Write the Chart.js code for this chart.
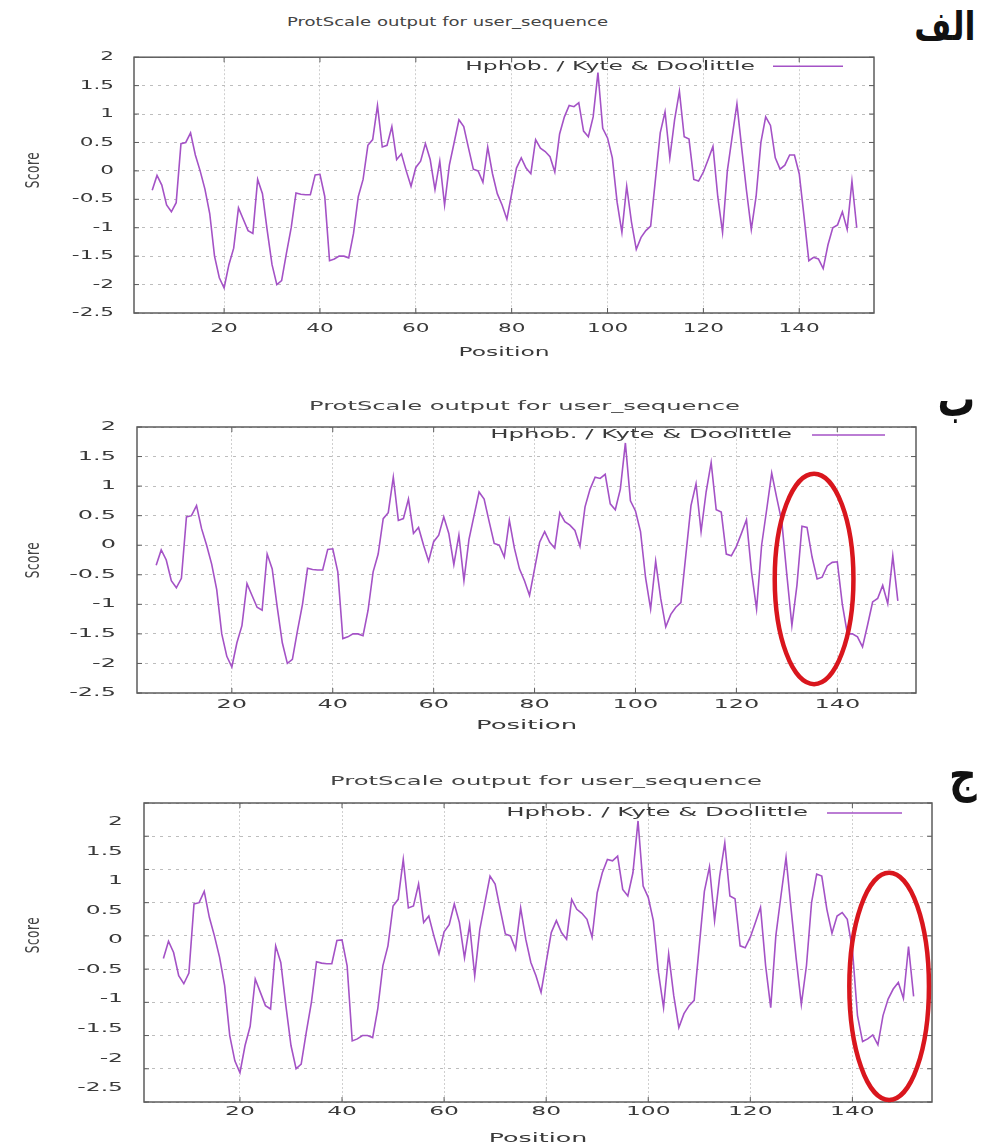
<!DOCTYPE html>
<html>
<head>
<meta charset="utf-8">
<title>ProtScale hydropathy</title>
<script src="https://cdn.jsdelivr.net/npm/chart.js@4.4.1/dist/chart.umd.min.js"></script>
<style>
  html, body { margin: 0; padding: 0; background: #fff; }
  #page { position: relative; width: 985px; height: 1146px; overflow: hidden; font-family: "DejaVu Sans", sans-serif; }
  .panel { position: absolute; left: 0; }
  .txt { position: absolute; white-space: nowrap; color: #444; line-height: 1; }
  .mark { position: absolute; white-space: nowrap; font-weight: bold; color: #111; line-height: 1; direction: rtl; }
</style>
</head>
<body>
<div id="page">
  <div class="panel" style="top:30px"><canvas id="chartA" width="900" height="345"></canvas></div>
  <div class="panel" style="top:395px"><canvas id="chartB" width="945" height="345"></canvas></div>
  <div class="panel" style="top:770px"><canvas id="chartC" width="960" height="376"></canvas></div>
</div>
<script>
// sequence positions (window centre), window of 9 residues
const positions = [
  5, 6, 7, 8, 9, 10, 11, 12, 13, 14,
  15, 16, 17, 18, 19, 20, 21, 22, 23, 24,
  25, 26, 27, 28, 29, 30, 31, 32, 33, 34,
  35, 36, 37, 38, 39, 40, 41, 42, 43, 44,
  45, 46, 47, 48, 49, 50, 51, 52, 53, 54,
  55, 56, 57, 58, 59, 60, 61, 62, 63, 64,
  65, 66, 67, 68, 69, 70, 71, 72, 73, 74,
  75, 76, 77, 78, 79, 80, 81, 82, 83, 84,
  85, 86, 87, 88, 89, 90, 91, 92, 93, 94,
  95, 96, 97, 98, 99, 100, 101, 102, 103, 104,
  105, 106, 107, 108, 109, 110, 111, 112, 113, 114,
  115, 116, 117, 118, 119, 120, 121, 122, 123, 124,
  125, 126, 127, 128, 129, 130, 131, 132, 133, 134,
  135, 136, 137, 138, 139, 140, 141, 142, 143, 144,
  145, 146, 147, 148, 149, 150, 151, 152
];

// Kyte & Doolittle scores
const scoresA = [
  -0.34, -0.08, -0.25, -0.6, -0.72, -0.56, 0.48, 0.5, 0.67, 0.28,
  0.0, -0.32, -0.75, -1.5, -1.88, -2.06, -1.65, -1.36, -0.65, -0.85,
  -1.05, -1.1, -0.15, -0.4, -1.05, -1.65, -2.0, -1.93, -1.45, -1.0,
  -0.39, -0.41, -0.42, -0.42, -0.07, -0.06, -0.45, -1.58, -1.55, -1.5,
  -1.5, -1.53, -1.1, -0.45, -0.15, 0.45, 0.55, 1.15, 0.42, 0.45,
  0.78, 0.2, 0.3, 0.0, -0.27, 0.06, 0.17, 0.48, 0.2, -0.33,
  0.17, -0.6, 0.1, 0.5, 0.9, 0.78, 0.4, 0.03, 0.0, -0.2,
  0.42, -0.05, -0.4, -0.6, -0.85, -0.4, 0.05, 0.23, 0.05, -0.05,
  0.55, 0.4, 0.34, 0.25, -0.02, 0.65, 0.95, 1.15, 1.13, 1.2,
  0.7, 0.6, 0.95, 1.73, 0.75, 0.58, 0.23, -0.55, -1.08, -0.27,
  -0.9, -1.38, -1.17, -1.05, -0.97, -0.15, 0.67, 1.04, 0.23, 0.9,
  1.4, 0.6, 0.56, -0.15, -0.18, -0.02, 0.2, 0.43, -0.45, -1.08,
  0.0, 0.6, 1.18, 0.4, -0.35, -1.03, -0.45, 0.5, 0.95, 0.8,
  0.23, 0.03, 0.1, 0.28, 0.28, -0.05, -0.8, -1.58, -1.52, -1.55,
  -1.72, -1.3, -1.0, -0.95, -0.72, -1.03, -0.18, -1.0
];

const scoresB = [
  -0.34, -0.08, -0.25, -0.6, -0.72, -0.56, 0.48, 0.5, 0.67, 0.28,
  0.0, -0.32, -0.75, -1.5, -1.88, -2.06, -1.65, -1.36, -0.65, -0.85,
  -1.05, -1.1, -0.15, -0.4, -1.05, -1.65, -2.0, -1.93, -1.45, -1.0,
  -0.39, -0.41, -0.42, -0.42, -0.07, -0.06, -0.45, -1.58, -1.55, -1.5,
  -1.5, -1.53, -1.1, -0.45, -0.15, 0.45, 0.55, 1.15, 0.42, 0.45,
  0.78, 0.2, 0.3, 0.0, -0.27, 0.06, 0.17, 0.48, 0.2, -0.33,
  0.17, -0.6, 0.1, 0.5, 0.9, 0.78, 0.4, 0.03, 0.0, -0.2,
  0.42, -0.05, -0.4, -0.6, -0.85, -0.4, 0.05, 0.23, 0.05, -0.05,
  0.55, 0.4, 0.34, 0.25, -0.02, 0.65, 0.95, 1.15, 1.13, 1.2,
  0.7, 0.6, 0.95, 1.73, 0.75, 0.58, 0.23, -0.55, -1.08, -0.27,
  -0.9, -1.38, -1.17, -1.05, -0.97, -0.15, 0.67, 1.04, 0.23, 0.9,
  1.4, 0.6, 0.56, -0.15, -0.18, -0.02, 0.2, 0.43, -0.45, -1.08,
  0.0, 0.6, 1.22, 0.8, 0.4, -0.5, -1.36, -0.68, 0.32, 0.3,
  -0.2, -0.57, -0.54, -0.35, -0.29, -0.28, -1.0, -1.5, -1.5, -1.55,
  -1.72, -1.35, -0.96, -0.9, -0.68, -0.99, -0.18, -0.94
];

const scoresC = [
  -0.34, -0.08, -0.25, -0.6, -0.72, -0.56, 0.48, 0.5, 0.67, 0.28,
  0.0, -0.32, -0.75, -1.5, -1.88, -2.06, -1.65, -1.36, -0.65, -0.85,
  -1.05, -1.1, -0.15, -0.4, -1.05, -1.65, -2.0, -1.93, -1.45, -1.0,
  -0.39, -0.41, -0.42, -0.42, -0.07, -0.06, -0.45, -1.58, -1.55, -1.5,
  -1.5, -1.53, -1.1, -0.45, -0.15, 0.45, 0.55, 1.15, 0.42, 0.45,
  0.78, 0.2, 0.3, 0.0, -0.27, 0.06, 0.17, 0.48, 0.2, -0.33,
  0.17, -0.6, 0.1, 0.5, 0.9, 0.78, 0.4, 0.03, 0.0, -0.2,
  0.42, -0.05, -0.4, -0.6, -0.85, -0.4, 0.05, 0.23, 0.05, -0.05,
  0.55, 0.4, 0.34, 0.25, -0.02, 0.65, 0.95, 1.15, 1.13, 1.2,
  0.7, 0.6, 0.95, 1.73, 0.75, 0.58, 0.23, -0.55, -1.08, -0.27,
  -0.9, -1.38, -1.17, -1.05, -0.97, -0.15, 0.67, 1.04, 0.23, 0.9,
  1.4, 0.6, 0.56, -0.15, -0.18, -0.02, 0.2, 0.43, -0.45, -1.08,
  0.0, 0.6, 1.18, 0.4, -0.35, -1.03, -0.45, 0.5, 0.93, 0.9,
  0.4, 0.04, 0.3, 0.35, 0.25, -0.2, -1.2, -1.59, -1.55, -1.49,
  -1.64, -1.2, -0.95, -0.8, -0.7, -0.94, -0.16, -0.91
];

const xTicks = [20, 40, 60, 80, 100, 120, 140];
const yTicks = [2, 1.5, 1, 0.5, 0, -0.5, -1, -1.5, -2, -2.5];
const xMin = 1.2, xMax = 155.6;
const yMin = -2.5, yMax = 2;

const plotTitle = 'ProtScale output for user_sequence';
const seriesLabel = 'Hphob. / Kyte & Doolittle';
const xLabel = 'Position';
const yLabel = 'Score';
const panelMarks = ['الف', 'ب', 'ج'];

const lineColor = '#a452c6';
const ringColor = '#d9161d';
const FONT = '"DejaVu Sans", sans-serif';

Chart.defaults.font.family = FONT;
Chart.defaults.color = '#3a3a3a';

// the source bitmaps were stretched sideways: draw all canvas text wider than tall
const wideText = {
  id: 'wideText',
  beforeDraw(chart, args, o) {
    const ctx = chart.ctx;
    ctx._sx = o.sx;
    if (ctx._wide) return;
    const plain = ctx.fillText;
    ctx.fillText = function (t, x, y) {
      this.save();
      this.translate(x, y);
      this.scale(this._sx, 1);
      plain.call(this, t, 0, 0);
      this.restore();
    };
    ctx._wide = true;
  }
};

const frame = {
  id: 'frame',
  afterDraw(chart) {
    const { ctx, chartArea: a, scales } = chart;
    ctx.save();
    ctx.strokeStyle = '#5c5c5c';
    ctx.lineWidth = 1.5;
    ctx.strokeRect(a.left, a.top, a.right - a.left, a.bottom - a.top);
    ctx.lineWidth = 1;
    ctx.beginPath();
    yTicks.forEach(v => {
      const p = scales.y.getPixelForValue(v);
      ctx.moveTo(a.left, p); ctx.lineTo(a.left + 5, p);
      ctx.moveTo(a.right, p); ctx.lineTo(a.right - 5, p);
    });
    xTicks.forEach(v => {
      const p = scales.x.getPixelForValue(v);
      ctx.moveTo(p, a.bottom); ctx.lineTo(p, a.bottom - 5);
      ctx.moveTo(p, a.top); ctx.lineTo(p, a.top + 5);
    });
    ctx.stroke();
    ctx.restore();
  }
};

const key = {
  id: 'key',
  afterDraw(chart, args, o) {
    const { ctx, chartArea: a } = chart;
    const ds = chart.data.datasets[0];
    const y = a.top + o.dy;
    const x1 = a.right - o.inset, x0 = x1 - o.len;
    ctx.save();
    ctx.strokeStyle = ds.borderColor;
    ctx.lineWidth = 1.5;
    ctx.beginPath(); ctx.moveTo(x0, y); ctx.lineTo(x1, y); ctx.stroke();
    ctx.font = o.size + 'px ' + FONT;
    ctx.fillStyle = '#3a3a3a';
    ctx.textAlign = 'right';
    ctx.textBaseline = 'middle';
    ctx.fillText(ds.label, x0 - o.gap, y);
    ctx.restore();
  }
};

const ring = {
  id: 'ring',
  afterDraw(chart, args, o) {
    if (!o || o.rx == null) return;
    const { ctx, scales } = chart;
    const cx = scales.x.getPixelForValue(o.x), cy = scales.y.getPixelForValue(o.y);
    const rx = Math.abs(scales.x.getPixelForValue(o.x + o.rx) - cx);
    const ry = Math.abs(scales.y.getPixelForValue(o.y + o.ry) - cy);
    ctx.save();
    ctx.strokeStyle = ringColor;
    ctx.lineWidth = 4.5;
    ctx.beginPath(); ctx.ellipse(cx, cy, rx, ry, 0, 0, Math.PI * 2); ctx.stroke();
    ctx.restore();
  }
};

const panels = [
  { id: 'chartA', scores: scoresA, pad: { top: 14, right: 26, bottom: 10, left: 0 },
    yW: 134, yPad: 20, xH: 52, xPad: 9, titlePadB: 5, sx: 1.8,
    keyBox: { dy: 9, inset: 31, len: 70, gap: 18, size: 13 }, ringAt: null, labelRange: null,
    title: { x: 287, y: 21, w: 321 }, score: { x: 33, y: 170 } },
  { id: 'chartB', scores: scoresB, pad: { top: 32, right: 29, bottom: 2, left: 0 },
    yW: 137, yPad: 21, xH: 45, xPad: 5, titlePadB: 5, sx: 2.0,
    keyBox: { dy: 8, inset: 31, len: 73, gap: 20, size: 12.2 }, ringAt: { x: 135.4, y: -0.57, rx: 7.8, ry: 1.78 }, labelRange: null,
    title: { x: 309, y: 405, w: 431 }, score: { x: 33, y: 560 } },
  { id: 'chartC', scores: scoresC, pad: { top: 33, right: 28, bottom: 0, left: 0 },
    yW: 144, yPad: 21, xH: 44, xPad: 3, titlePadB: 0, sx: 1.95,
    keyBox: { dy: 10, inset: 30, len: 75, gap: 19, size: 12.5 }, ringAt: { x: 147.2, y: -0.76, rx: 7.8, ry: 1.71 },
    labelRange: { min: -2.737, max: 2.32 },
    title: { x: 330, y: 780, w: 432 }, score: { x: 33, y: 935 } }
];

const marks = [
  { right: 975, y: 26, size: 40, sx: 0.8 },
  { right: 975, y: 399, size: 50, sx: 0.75 },
  { right: 977, y: 774, size: 48, sx: 0.8 }
];

function setTicks(list) {
  return axis => { axis.ticks = list.map(v => ({ value: v })); };
}

function makeChart(p) {
  const tickFont = { family: FONT, size: 12 };
  const scales = {
    x: {
      type: 'linear', min: xMin, max: xMax,
      afterBuildTicks: setTicks(xTicks),
      afterFit: s => { s.height = p.xH; },
      grid: { color: '#cfcfcf', lineWidth: 1, drawTicks: false },
      border: { display: false, dash: [2, 2] },
      ticks: { autoSkip: false, maxRotation: 0, padding: p.xPad,
               font: tickFont, callback: v => String(v) },
      title: { display: true, text: xLabel, font: { family: FONT, size: 13 },
               padding: { top: 0, bottom: p.titlePadB } }
    },
    y: {
      position: 'left', min: yMin, max: yMax,
      afterBuildTicks: setTicks(yTicks),
      afterFit: s => { s.width = p.labelRange ? 0 : p.yW; },
      grid: { color: '#bdbdbd', lineWidth: 1, drawTicks: false },
      border: { display: false, dash: [3, 5] },
      ticks: { display: !p.labelRange, padding: p.yPad, font: tickFont, callback: v => String(v) }
    }
  };
  if (p.labelRange) {
    // tick labels of this panel sit on their own, slightly tighter spacing
    scales.yl = {
      position: 'left', min: p.labelRange.min, max: p.labelRange.max,
      afterBuildTicks: setTicks(yTicks),
      afterFit: s => { s.width = p.yW; },
      grid: { display: false, drawTicks: false },
      border: { display: false },
      ticks: { padding: p.yPad, font: tickFont, callback: v => String(v) }
    };
  }
  return new Chart(document.getElementById(p.id), {
    type: 'line',
    data: {
      datasets: [{
        label: seriesLabel,
        data: positions.map((x, i) => ({ x, y: p.scores[i] })),
        borderColor: lineColor,
        borderWidth: 1.6,
        pointRadius: 0,
        tension: 0,
        fill: false,
        yAxisID: 'y'
      }]
    },
    options: {
      responsive: false,
      animation: false,
      devicePixelRatio: 1,
      layout: { padding: p.pad },
      scales,
      plugins: {
        legend: { display: false },
        tooltip: { enabled: false },
        wideText: { sx: p.sx },
        key: p.keyBox,
        ring: p.ringAt || {}
      }
    },
    plugins: [wideText, frame, key, ring]
  });
}

const page = document.getElementById('page');

function addText(text, cls, size) {
  const el = document.createElement('div');
  el.className = cls;
  el.textContent = text;
  el.style.fontSize = size + 'px';
  page.appendChild(el);
  return el;
}

panels.forEach(p => {
  makeChart(p);

  const t = addText(plotTitle, 'txt', 13);
  const w = t.getBoundingClientRect().width;
  t.style.left = p.title.x + 'px';
  t.style.top = (p.title.y - 6.5) + 'px';
  t.style.transformOrigin = '0 50%';
  t.style.transform = 'scaleX(' + (p.title.w / w) + ')';

  const s = addText(yLabel, 'txt', 12);
  s.style.letterSpacing = '0.6px';
  s.style.left = p.score.x + 'px';
  s.style.top = p.score.y + 'px';
  s.style.transform = 'translate(-50%, -50%) rotate(-90deg) scaleY(1.6)';
});

marks.forEach((m, i) => {
  const el = addText(panelMarks[i], 'mark', m.size);
  el.style.right = (985 - m.right) + 'px';
  el.style.top = (m.y - m.size / 2) + 'px';
  el.style.transformOrigin = '100% 50%';
  el.style.transform = 'scaleX(' + m.sx + ')';
});
</script>
</body>
</html>
